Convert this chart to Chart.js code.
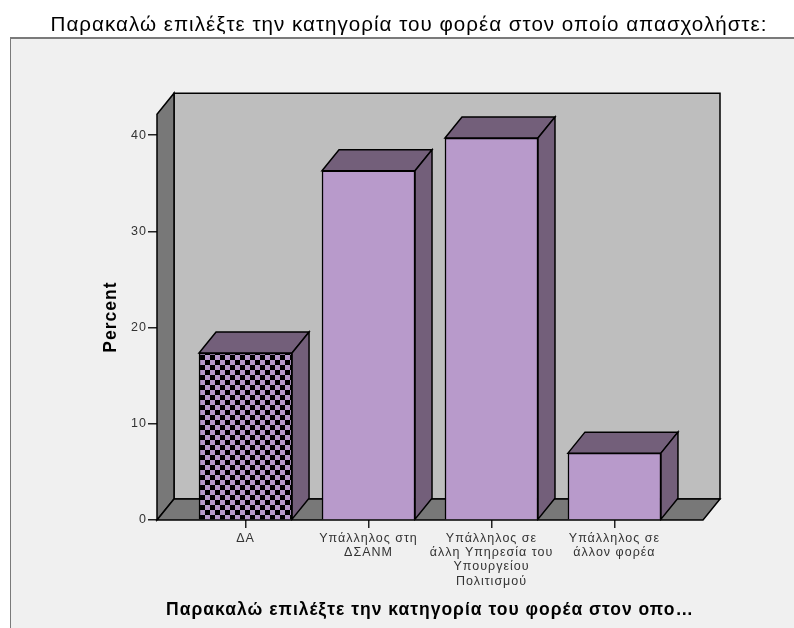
<!DOCTYPE html>
<html>
<head>
<meta charset="utf-8">
<script src="https://cdn.jsdelivr.net/npm/chart.js@4"></script>
<style>
html, body { margin: 0; padding: 0; background: #fff; }
#wrap { width: 794px; height: 628px; }
</style>
</head>
<body>
<div id="wrap"><canvas id="chart" width="794" height="628"></canvas></div>
<script>
const categories = ['ΔΑ', 'Υπάλληλος στη ΔΣΑΝΜ', 'Υπάλληλος σε άλλη Υπηρεσία του Υπουργείου Πολιτισμού', 'Υπάλληλος σε άλλον φορέα'];
const tickLabels = [
    ['ΔΑ'],
    ['Υπάλληλος στη', 'ΔΣΑΝΜ'],
    ['Υπάλληλος σε', 'άλλη Υπηρεσία του', 'Υπουργείου', 'Πολιτισμού'],
    ['Υπάλληλος σε', 'άλλον φορέα']
];
const percents = [17.35, 36.3, 39.7, 6.95];
const yTicks = [0, 10, 20, 30, 40];

const chartTitle = 'Παρακαλώ επιλέξτε την κατηγορία του φορέα στον οποίο απασχολήστε:';
const xTitle = 'Παρακαλώ επιλέξτε την κατηγορία του φορέα στον οπο…';
const yTitle = 'Percent';

// 3D look
const DEPTH_X = 17;
const DEPTH_Y = 21;
const BAR_W = 93;
const purple = '#B89ACB';
const purpleDark = '#735F7A';

function checkerPattern(ctx) {
    const c = document.createElement('canvas');
    c.width = 10;
    c.height = 10;
    const p = c.getContext('2d');
    p.fillStyle = '#000';
    p.fillRect(0, 0, 10, 10);
    p.fillStyle = purple;
    p.fillRect(0, 0, 5, 5);
    p.fillRect(5, 5, 5, 5);
    return ctx.createPattern(c, 'repeat');
}

function poly(ctx, pts, fill) {
    ctx.beginPath();
    pts.forEach((pt, i) => i ? ctx.lineTo(pt[0], pt[1]) : ctx.moveTo(pt[0], pt[1]));
    ctx.closePath();
    ctx.fillStyle = fill;
    ctx.fill();
    ctx.stroke();
}

const box3d = {
    id: 'box3d',
    beforeLayout(chart) {
        // reference text is loosely spaced
        chart.ctx.letterSpacing = '1px';
    },
    afterLayout(chart) {
        // main title sits a bit right of the canvas centre
        chart.titleBlock.left = 24;
        chart.titleBlock.right = 794;
    },
    beforeDraw(chart) {
        const ctx = chart.ctx;
        ctx.letterSpacing = '1px';
        ctx.save();
        // outer panel, open on the right and at the bottom
        ctx.fillStyle = '#FFFFFF';
        ctx.fillRect(0, 0, chart.width, chart.height);
        ctx.fillStyle = '#F0F0F0';
        ctx.fillRect(10, 38, chart.width - 10, chart.height - 38);
        ctx.fillStyle = '#7A7A7A';
        ctx.fillRect(10, 37, chart.width - 10, 2);
        ctx.fillRect(10, 37, 1, chart.height - 37);
        ctx.restore();
    },
    beforeDatasetsDraw(chart) {
        const ctx = chart.ctx;
        const a = chart.chartArea;
        ctx.save();
        ctx.strokeStyle = '#000';
        ctx.lineWidth = 1.5;
        ctx.lineJoin = 'miter';
        // back wall, left wall, floor
        poly(ctx, [[a.left + DEPTH_X, a.top - DEPTH_Y], [a.right + DEPTH_X, a.top - DEPTH_Y], [a.right + DEPTH_X, a.bottom - DEPTH_Y], [a.left + DEPTH_X, a.bottom - DEPTH_Y]], '#BEBEBE');
        poly(ctx, [[a.left, a.top], [a.left + DEPTH_X, a.top - DEPTH_Y], [a.left + DEPTH_X, a.bottom - DEPTH_Y], [a.left, a.bottom]], '#787878');
        poly(ctx, [[a.left, a.bottom], [a.left + DEPTH_X, a.bottom - DEPTH_Y], [a.right + DEPTH_X, a.bottom - DEPTH_Y], [a.right, a.bottom]], '#787878');
        // bar tops and sides go behind the bar fronts
        chart.getDatasetMeta(0).data.forEach(bar => {
            const l = bar.x - BAR_W / 2;
            const r = bar.x + BAR_W / 2;
            const t = bar.y;
            const b = bar.base;
            poly(ctx, [[l, t], [l + DEPTH_X, t - DEPTH_Y], [r + DEPTH_X, t - DEPTH_Y], [r, t]], purpleDark);
            poly(ctx, [[r, t], [r + DEPTH_X, t - DEPTH_Y], [r + DEPTH_X, b - DEPTH_Y], [r, b]], purpleDark);
        });
        ctx.restore();
    }
};

document.addEventListener('DOMContentLoaded', () => {
    const ctx = document.getElementById('chart').getContext('2d');

    new Chart(ctx, {
        type: 'bar',
        data: {
            datasets: [{
                label: 'Percent',
                data: percents.map((v, i) => ({ x: i, y: v })),
                backgroundColor: [checkerPattern(ctx), purple, purple, purple],
                borderColor: '#000',
                borderWidth: 1.5,
                barThickness: BAR_W
            }]
        },
        options: {
            responsive: false,
            animation: false,
            layout: { padding: { top: 0, right: 91, bottom: 7, left: 101 } },
            plugins: {
                legend: { display: false },
                tooltip: { enabled: false },
                title: {
                    display: true,
                    text: chartTitle,
                    color: '#000',
                    font: { family: 'Liberation Sans', size: 20.6, weight: 'normal' },
                    padding: { top: 13, bottom: 76.5 }
                }
            },
            scales: {
                x: {
                    type: 'linear',
                    min: -0.72,
                    max: 3.72,
                    offset: false,
                    afterBuildTicks: s => { s.ticks = categories.map((c, i) => ({ value: i })); },
                    afterFit: s => { s.height = 101; },
                    grid: { drawOnChartArea: false, offset: false, tickLength: 8, color: '#222', lineWidth: 1.5 },
                    border: { display: false },
                    ticks: {
                        autoSkip: false,
                        maxRotation: 0,
                        padding: 3,
                        color: '#333',
                        font: { family: 'Liberation Sans', size: 12.5, lineHeight: 1.15 },
                        callback: v => tickLabels[v]
                    },
                    title: {
                        display: true,
                        text: xTitle,
                        color: '#000',
                        font: { family: 'Liberation Sans', size: 17.5, weight: 'bold' },
                        padding: 0
                    }
                },
                y: {
                    min: 0,
                    max: 42.18,
                    afterBuildTicks: s => { s.ticks = yTicks.map(v => ({ value: v })); },
                    afterFit: s => { s.width = 56; },
                    grid: { drawOnChartArea: false, tickLength: 9, color: '#222', lineWidth: 1.5 },
                    border: { display: false },
                    ticks: {
                        padding: 1,
                        color: '#333',
                        font: { family: 'Liberation Sans', size: 12.5 }
                    },
                    title: {
                        display: true,
                        text: yTitle,
                        color: '#000',
                        font: { family: 'Liberation Sans', size: 17.5, weight: 'bold' },
                        padding: 0
                    }
                }
            }
        },
        plugins: [box3d]
    });
});
</script>
</body>
</html>
